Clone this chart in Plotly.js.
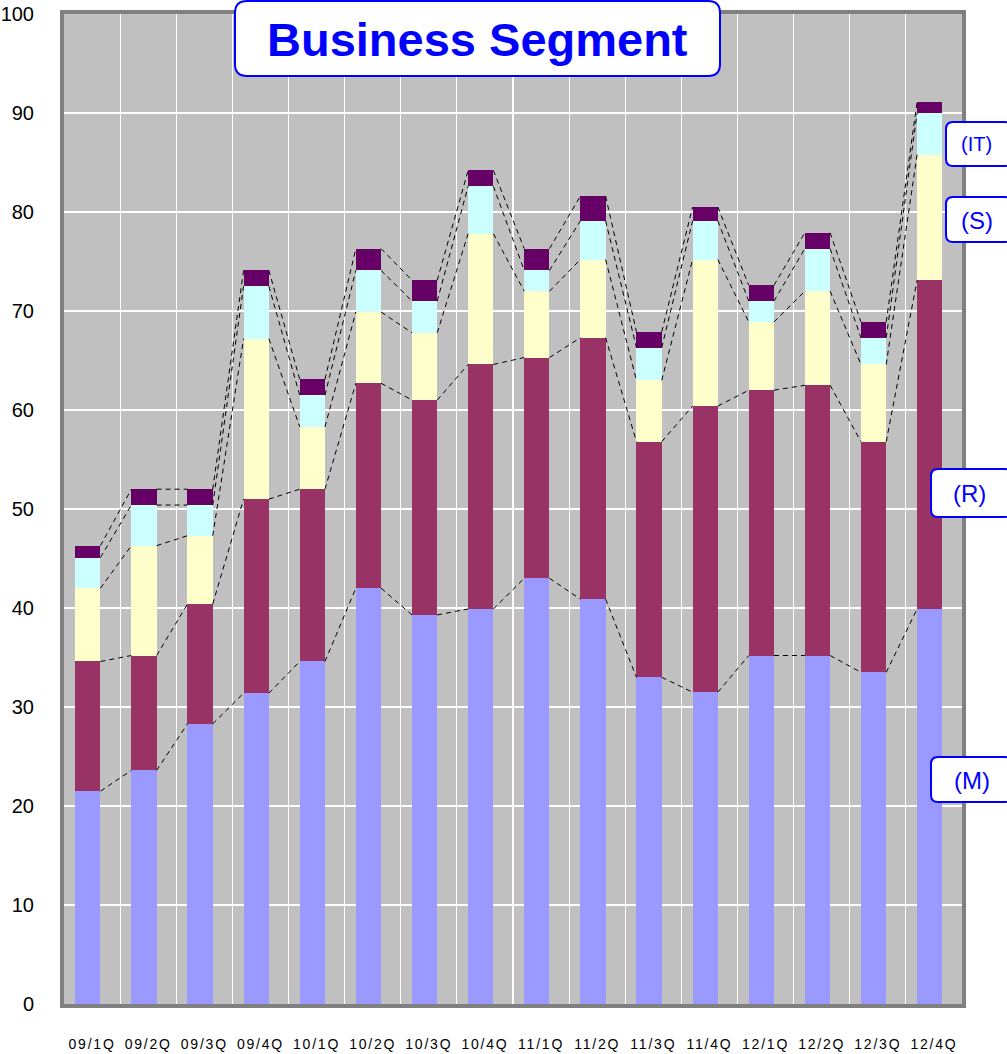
<!DOCTYPE html>
<html><head><meta charset="utf-8">
<script src="https://cdn.plot.ly/plotly-3.0.1.min.js"></script>
<style>
html,body{margin:0;padding:0;background:#fff;}
#chart{width:1007px;height:1054px;}
.xtick text{letter-spacing:1.8px;}
</style></head><body><div id="chart"></div>
<script>
// ---- data ----
const quarters = ["09/1Q","09/2Q","09/3Q","09/4Q","10/1Q","10/2Q","10/3Q","10/4Q",
                  "11/1Q","11/2Q","11/3Q","11/4Q","12/1Q","12/2Q","12/3Q","12/4Q"];
const segM     = [21.5, 23.6, 28.3, 31.4, 34.6, 42.0, 39.3, 39.9, 43.0, 40.9, 33.0, 31.5, 35.2, 35.2, 33.5, 39.9];
const segR     = [13.1, 11.6, 12.1, 19.6, 17.4, 20.7, 21.7, 24.7, 22.3, 26.4, 23.8, 28.9, 26.8, 27.3, 23.3, 33.2];
const segS     = [ 7.4, 11.1,  6.9, 16.2,  6.3,  7.2,  6.8, 13.2,  6.7,  7.9,  6.2, 14.8,  6.9,  9.5,  7.8, 12.7];
const segIT    = [ 3.1,  4.1,  3.1,  5.3,  3.2,  4.2,  3.2,  4.8,  2.1,  3.9,  3.3,  3.9,  2.1,  4.3,  2.7,  4.2];
const segOther = [ 1.2,  1.6,  1.6,  1.6,  1.6,  2.2,  2.1,  1.6,  2.2,  2.5,  1.6,  1.4,  1.6,  1.6,  1.6,  1.1];
const seriesNames = ["(M)", "(R)", "(S)", "(IT)", "Other"];
const yTicks = [0,10,20,30,40,50,60,70,80,90,100];
const chartTitle = "Business Segment";

// ---- styling ----
const colors = ["#9999FF", "#993366", "#FFFFCC", "#CCFFFF", "#660066"];
const FONT = "Liberation Sans, Arial, sans-serif";
const BAR_W = 0.45, BAR_OFF = -0.30;

const xIdx = quarters.map((_, i) => i);
const series = [segM, segR, segS, segIT, segOther];

const traces = series.map((vals, k) => ({
  type: "bar", x: xIdx, y: vals, name: seriesNames[k],
  width: BAR_W, offset: BAR_OFF,
  marker: {color: colors[k], line: {width: 0}},
  hoverinfo: "skip"
}));

// series lines (dashed) connecting the top of each stacked level
let cum = quarters.map(() => 0);
series.forEach(vals => {
  cum = cum.map((c, i) => c + vals[i]);
  const lx = [], ly = [];
  for (let i = 0; i < quarters.length - 1; i++) {
    lx.push(xIdx[i] + BAR_OFF + BAR_W, xIdx[i + 1] + BAR_OFF, null);
    ly.push(cum[i], cum[i + 1], null);
  }
  traces.push({type: "scatter", mode: "lines", x: lx, y: ly, showlegend: false,
    hoverinfo: "skip", line: {color: "#000", width: 1, dash: "5px,4px"}});
});

// ---- helpers for boxes (pixel -> paper) ----
const L = 64, R = 962, T = 14, B = 1004;
const px = v => (v - L) / (R - L);
const py = v => (B - v) / (B - T);
function roundRect(x0, y0, x1, y1, r) {
  const rx = r / (R - L), ry = r / (B - T);
  const a = px(x0), b = px(x1), c = py(y1), d = py(y0);
  return `M${a + rx},${d} L${b - rx},${d} Q${b},${d} ${b},${d - ry} L${b},${c + ry} Q${b},${c} ${b - rx},${c} ` +
         `L${a + rx},${c} Q${a},${c} ${a},${c + ry} L${a},${d - ry} Q${a},${d} ${a + rx},${d} Z`;
}
const boxes = [
  {x0: 235, y0: 1, x1: 720, y1: 76, r: 12, text: chartTitle, cx: 477, cy: 40, size: 47, bold: true},
  {x0: 946, y0: 122, x1: 1012, y1: 166, r: 7, text: seriesNames[3], cx: 977, cy: 144, size: 20},
  {x0: 946, y0: 197, x1: 1012, y1: 242, r: 7, text: seriesNames[2], cx: 977, cy: 220, size: 24},
  {x0: 931, y0: 469, x1: 1012, y1: 517, r: 7, text: seriesNames[1], cx: 969, cy: 493, size: 24},
  {x0: 931, y0: 757, x1: 1012, y1: 802, r: 7, text: seriesNames[0], cx: 972, cy: 780, size: 24}
];
const shapes = boxes.map(bx => ({
  type: "path", xref: "paper", yref: "paper", layer: "above",
  path: roundRect(bx.x0, bx.y0, bx.x1, bx.y1, bx.r),
  fillcolor: "#FFFFFF", line: {color: "#0000FF", width: 2}
}));
const annotations = boxes.map(bx => ({
  xref: "paper", yref: "paper", x: px(bx.cx), y: py(bx.cy),
  xanchor: "center", yanchor: "middle", showarrow: false,
  text: bx.bold ? "<b>" + bx.text + "</b>" : bx.text,
  font: {family: FONT, size: bx.size, color: "#0000FF"}
}));

const layout = {
  width: 1007, height: 1054,
  margin: {l: L, r: 1007 - R, t: T, b: 1054 - B, pad: 0},
  paper_bgcolor: "#FFFFFF", plot_bgcolor: "#C0C0C0",
  barmode: "stack", bargap: 0, showlegend: false,
  font: {family: FONT, color: "#000"},
  xaxis: {
    range: [-0.5, quarters.length - 0.5], tickvals: xIdx, ticktext: quarters,
    showgrid: false, zeroline: false, fixedrange: true,
    showline: true, mirror: true, linecolor: "#808080", linewidth: 4,
    ticks: "outside", ticklen: 24, tickcolor: "rgba(0,0,0,0)",
    tickfont: {family: FONT, size: 14, color: "#000"},
    minor: {tick0: 0.5, dtick: 1, showgrid: true, gridcolor: "#FFFFFF", gridwidth: 1.2, ticks: ""}
  },
  yaxis: {
    range: [0, 100], tickvals: yTicks, showgrid: true, gridcolor: "#FFFFFF", gridwidth: 1.2,
    zeroline: false, fixedrange: true,
    showline: true, mirror: true, linecolor: "#808080", linewidth: 4,
    ticks: "", ticklabelstandoff: 22,
    tickfont: {family: FONT, size: 20, color: "#000"}
  },
  shapes: shapes, annotations: annotations
};

Plotly.newPlot("chart", traces, layout, {staticPlot: true, displayModeBar: false});
</script></body></html>
